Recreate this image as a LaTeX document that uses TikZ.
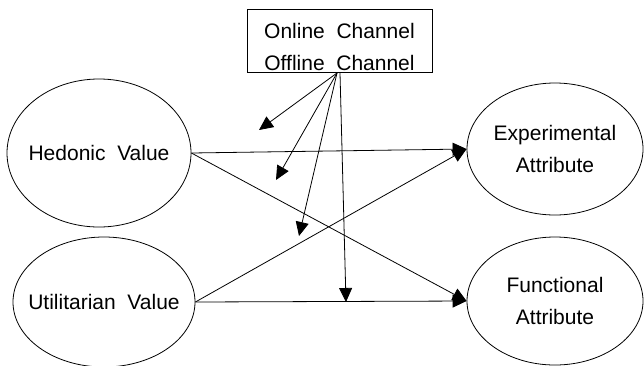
\documentclass[tikz,border=0pt]{standalone}
\usepackage{fontspec}
\setmainfont{Liberation Sans}[WordSpace=2]
\usetikzlibrary{shapes.geometric,arrows.meta}

\begin{document}
\begin{tikzpicture}[x=1pt,y=-1pt,line width=0.8pt,
  every node/.style={font=\fontsize{21}{32}\selectfont},
  construct/.style={draw,ellipse,inner sep=-20pt,align=center},
  path/.style={-{Triangle[length=14pt,width=13pt]}}]
\useasboundingbox (0,0) rectangle (644,365);
% constructs
\node [construct,minimum width=184pt,minimum height=148pt] (hed) at (99,153) {Hedonic Value};
\node [construct,minimum width=182pt,minimum height=130pt] (uti) at (104,302) {Utilitarian Value};
\node [construct,minimum width=176pt,minimum height=132pt] (exp) at (555,149) {Experimental\\Attribute};
\node [construct,minimum width=176pt,minimum height=128pt] (fun) at (555,301) {Functional\\Attribute};
% moderator
\node [draw,minimum width=185pt,minimum height=63pt,align=center,inner sep=0pt] (chan) at (339.5,41)
  {\rule{0pt}{28pt}Online Channel\\Offline Channel};
% main paths
\draw [path] (hed.east) -- (exp.west);
\draw [path] (hed.east) -- (fun.west);
\draw [path] (uti.east) -- (exp.west);
\draw [path] (uti.east) -- (fun.west);
% moderating paths
\coordinate (m1) at (259,130);
\coordinate (m2) at (276,180);
\coordinate (m3) at (299,236);
\coordinate (m4) at (346,302);
\draw [path] (337,73) -- (m1);
\draw [path] (337,73) -- (m2);
\draw [path] (337,73) -- (m3);
\draw [path] (340,73) -- (m4);
\end{tikzpicture}
\end{document}
